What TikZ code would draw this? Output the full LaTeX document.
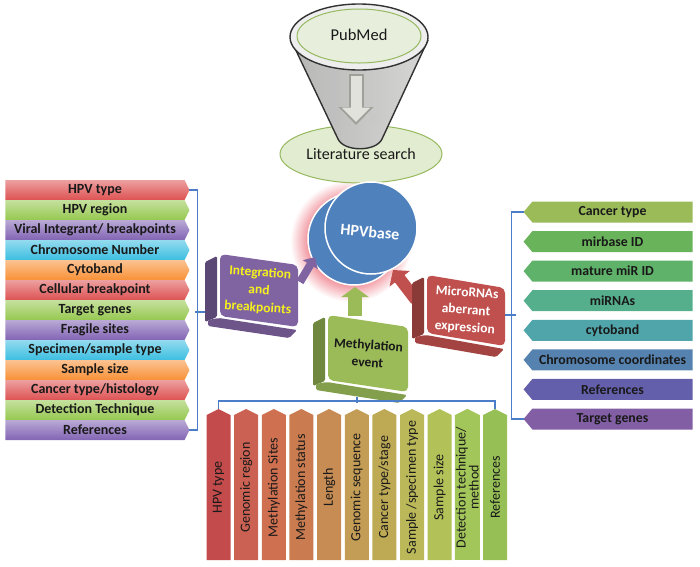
\documentclass[tikz,border=0pt]{standalone}
\usepackage{fontspec}
\setmainfont{Carlito}
\usetikzlibrary{shapes.symbols,shapes.geometric,arrows.meta,calc}
\definecolor{tdark}{RGB}{25,25,25}
\definecolor{bline}{RGB}{75,125,200}
\definecolor{lred}{RGB}{222,82,82}
\definecolor{lgreen}{RGB}{150,200,80}
\definecolor{lpurple}{RGB}{130,100,180}
\definecolor{lcyan}{RGB}{60,190,225}
\definecolor{lorange}{RGB}{248,145,55}
\definecolor{ra}{RGB}{155,187,89}
\definecolor{rb}{RGB}{105,180,90}
\definecolor{rc}{RGB}{95,178,105}
\definecolor{rd}{RGB}{85,175,140}
\definecolor{re}{RGB}{80,165,170}
\definecolor{rf}{RGB}{85,130,175}
\definecolor{rg}{RGB}{100,95,170}
\definecolor{rh}{RGB}{130,95,165}
\definecolor{ba}{RGB}{195,75,75}
\definecolor{bb}{RGB}{202,97,82}
\definecolor{bc}{RGB}{207,112,80}
\definecolor{bd}{RGB}{202,124,80}
\definecolor{be}{RGB}{198,140,84}
\definecolor{bf}{RGB}{195,156,85}
\definecolor{bg}{RGB}{190,170,85}
\definecolor{bh}{RGB}{186,184,88}
\definecolor{bi}{RGB}{178,193,88}
\definecolor{bj}{RGB}{163,198,90}
\definecolor{bk}{RGB}{150,192,85}
\definecolor{ipurple}{RGB}{128,100,162}
\definecolor{iyellow}{RGB}{245,240,30}
\definecolor{mgreen}{RGB}{155,187,89}
\definecolor{mred}{RGB}{192,80,77}
\definecolor{hblue}{RGB}{79,129,189}
\definecolor{glowc}{RGB}{240,140,150}
\definecolor{fgray}{RGB}{200,200,198}
\definecolor{fline}{RGB}{50,50,50}
\definecolor{gline}{RGB}{150,185,95}
\definecolor{pubfill}{RGB}{232,238,220}
\definecolor{litfill}{RGB}{226,236,208}
\definecolor{arrfill}{RGB}{226,226,220}
\definecolor{arrline}{RGB}{160,160,155}
\pgfdeclareradialshading{hglow}{\pgfpoint{0bp}{0bp}}{color(0bp)=(glowc);color(17bp)=(glowc);color(25bp)=(white);color(50bp)=(white)}
\newcommand\tdbox[9]{%
\begin{scope}[shift={(#1,#2)}]
\fill[#6!72!black, rounded corners=1.5pt] (-15,8) -- (-3,2) -- (-3,#4+1) -- (-15,#4+6) -- cycle;
\fill[#6!85!black, rounded corners=1.5pt] (-12,#4+4) -- (-1,#4+2) -- (#3-1,#4+#5+3) -- (#3-9,#4+#5+11) -- (-12,#4+10) -- cycle;
\fill[#6, rounded corners=5pt] (0,0) -- (#3,#5) -- (#3,#4+#5) -- (0,#4) -- cycle;
\node[font=\bfseries\fontsize{13.5}{17.5}\selectfont, text=#9, align=center, rotate=-4, inner sep=0pt] (#7) at (#3/2,#4/2+#5/2) {#8};
\end{scope}}
\begin{document}
\begin{tikzpicture}[x=1pt,y=-1pt,
  ltag/.style={signal, signal to=east, signal pointer angle=127, minimum width=184pt, minimum height=20pt, inner sep=1pt, outer sep=0pt, font=\bfseries\fontsize{14}{16}\selectfont, text=tdark, top color=#1!55!white, bottom color=#1},
  rtag/.style={signal, signal to=west, signal pointer angle=100, minimum width=169pt, minimum height=21pt, inner sep=1pt, outer sep=0pt, font=\bfseries\fontsize{13.8}{16}\selectfont, text=tdark, fill=#1},
  btag/.style={signal, signal to=east, rotate=90, signal pointer angle=127, minimum width=151pt, minimum height=24pt, inner sep=1pt, outer sep=0pt, font=\fontsize{14}{13}\selectfont, text=tdark, align=center, fill=#1},
  brk/.style={draw=bline, line width=1.3pt},
]
\useasboundingbox (0,0) rectangle (700,566);

% glow and funnel
\shade[shading=hglow] (351,241) circle[radius=61pt];
\node[ellipse, draw=gline, line width=1pt, fill=litfill, minimum width=162pt, minimum height=58pt, inner sep=0pt, font=\fontsize{16}{18}\selectfont, text=tdark] (lit) at (361,154) {\raisebox{-4pt}{Literature search}};
\fill[left color=fgray, right color=fgray!35!white, fill opacity=0.9] (291,40) -- (338,139) .. controls (344,152) and (376,152) .. (382,139) -- (428,40) -- cycle;
\draw[fline, line width=1.4pt] (291,40) -- (338,139) .. controls (344,152) and (376,152) .. (382,139) -- (428,40);
\draw[fline, line width=1.4pt, fill=fgray!30!white] (359,37) ellipse [x radius=69pt, y radius=33pt];
\node[ellipse, draw=gline, line width=1pt, fill=pubfill, minimum width=124pt, minimum height=54pt, inner sep=0pt, font=\fontsize{16.5}{19}\selectfont, text=tdark] (pub) at (359,36) {\raisebox{3pt}{PubMed}};
\coordinate (fa1) at (356,74);
\coordinate (fa2) at (356,125);
\draw[arrline, line width=15pt, -{Triangle[length=18pt 0, width=34pt 0]}] (fa1) -- (fa2);
\draw[arrfill, line width=11pt, -{Triangle[length=14.5pt 0, width=28pt 0]}] ($(fa1)+(0,2)$) -- ($(fa2)+(0,-3)$);

% HPVbase circles
\node[circle, draw=white, line width=1.5pt, fill=hblue, minimum size=92pt, inner sep=0pt] (hpvback) at (354,239) {};
\node[circle, draw=white, line width=1.5pt, fill=hblue, minimum size=92pt, inner sep=0pt] (hpv) at (371,228) {};
\node[text=white, font=\bfseries\fontsize{16}{18}\selectfont, rotate=-5] (hpvt) at (370,232) {HPVbase};

% arrows into HPVbase
\coordinate (pa1) at (300,282);
\coordinate (pa2) at (315,257);
\coordinate (ga1) at (355,316);
\coordinate (ga2) at (355,287);
\coordinate (ra1) at (416,300);
\coordinate (ra2) at (393,270);
\draw[ipurple, line width=8pt, -{Triangle[length=9pt 0, width=17pt 0]}] (pa1) -- (pa2);
\draw[mgreen, line width=14pt, -{Triangle[length=10pt 0, width=27pt 0]}] (ga1) -- (ga2);
\draw[mred, line width=12pt, -{Triangle[length=11pt 0, width=25pt 0]}] (ra1) -- (ra2);

% 3D boxes
\tdbox{220}{254}{78}{62}{11}{ipurple}{intg}{Integration\\and\\breakpoints}{iyellow}
\tdbox{328}{315}{80}{65}{12}{mgreen}{meth}{Methylation\\event}{tdark}
\tdbox{427}{275}{78}{58}{13}{mred}{mirna}{MicroRNAs\\aberrant\\expression}{white}

% left list
\node[ltag=lred] (L1) at (95,190) {HPV type};
\node[ltag=lgreen] (L2) at (95,210) {HPV region};
\node[ltag=lpurple] (L3) at (95,230) {Viral Integrant/ breakpoints};
\node[ltag=lcyan] (L4) at (95,250) {Chromosome Number};
\node[ltag=lorange] (L5) at (95,270) {Cytoband};
\node[ltag=lred] (L6) at (95,290) {Cellular breakpoint};
\node[ltag=lgreen] (L7) at (95,310) {Target genes};
\node[ltag=lpurple] (L8) at (95,330) {Fragile sites};
\node[ltag=lcyan] (L9) at (95,350) {Specimen/sample type};
\node[ltag=lorange] (L10) at (95,370) {Sample size};
\node[ltag=lred] (L11) at (95,390) {Cancer type/histology};
\node[ltag=lgreen] (L12) at (95,410) {Detection Technique};
\node[ltag=lpurple] (L13) at (95,430) {References};

% right list
\node[rtag=ra] (R1) at (612.5,212) {Cancer type};
\node[rtag=rb] (R2) at (612.5,241.6) {mirbase ID};
\node[rtag=rc] (R3) at (612.5,271.1) {mature miR ID};
\node[rtag=rd] (R4) at (612.5,300.7) {miRNAs};
\node[rtag=re] (R5) at (612.5,330.3) {cytoband};
\node[rtag=rf] (R6) at (612.5,359.9) {Chromosome coordinates};
\node[rtag=rg] (R7) at (612.5,389.4) {References};
\node[rtag=rh] (R8) at (612.5,419) {Target genes};

% bottom list
\node[btag=ba] (B1) at (218.5,487.5) {HPV type};
\node[btag=bb] (B2) at (246.15,487.5) {Genomic region};
\node[btag=bc] (B3) at (273.8,487.5) {Methylation Sites};
\node[btag=bd] (B4) at (301.45,487.5) {Methylation status};
\node[btag=be] (B5) at (329.1,487.5) {Length};
\node[btag=bf] (B6) at (356.75,487.5) {Genomic sequence};
\node[btag=bg] (B7) at (384.4,487.5) {Cancer type/stage};
\node[btag=bh] (B8) at (412.05,487.5) {Sample /specimen type};
\node[btag=bi] (B9) at (439.7,487.5) {Sample size};
\node[btag=bj] (B10) at (467.35,487.5) {Detection technique/\\method};
\node[btag=bk] (B11) at (495,487.5) {References};

% brackets
\draw[brk] (L1.east) -- ++(8,0) |- (L13.east);
\coordinate (lbm) at (195,312);
\coordinate (intgside) at (205,312);
\draw[brk] (lbm) -- (intgside);
\draw[brk] (R1.west) -- ++(-12,0) |- (R8.west);
\coordinate (rbm) at (516,315);
\coordinate (mirnaside) at (505,315);
\draw[brk] (rbm) -- (mirnaside);
\draw[brk] (B1.east) -- ++(0,-8) -| (B11.east);
\coordinate (bbm) at (357,403);
\coordinate (methbottom) at (357,397);
\draw[brk] (bbm) -- (methbottom);
\end{tikzpicture}
\end{document}
